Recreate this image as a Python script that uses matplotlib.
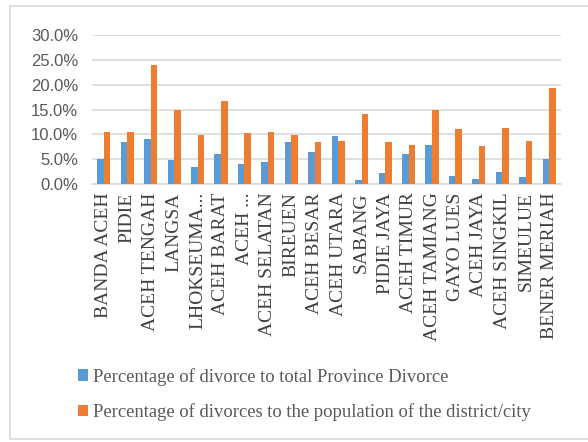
import numpy as np
from matplotlib import pyplot as plt
from matplotlib.patches import Rectangle

districts = ["BANDA ACEH", "PIDIE", "ACEH TENGAH", "LANGSA", "LHOKSEUMA...",
             "ACEH BARAT", "ACEH ...", "ACEH SELATAN", "BIREUEN", "ACEH BESAR",
             "ACEH UTARA", "SABANG", "PIDIE JAYA", "ACEH TIMUR", "ACEH TAMIANG",
             "GAYO LUES", "ACEH JAYA", "ACEH SINGKIL", "SIMEULUE", "BENER MERIAH"]
pct_province = [5.0, 8.4, 9.0, 4.8, 3.5, 6.1, 4.0, 4.5, 8.4, 6.4,
                9.7, 0.9, 2.2, 6.1, 7.9, 1.7, 1.1, 2.5, 1.4, 5.0]
pct_population = [10.4, 10.4, 23.9, 14.9, 9.9, 16.7, 10.2, 10.5, 9.9, 8.4,
                  8.6, 14.0, 8.4, 7.8, 14.9, 11.0, 7.6, 11.3, 8.6, 19.3]
label_province = "Percentage of divorce to total Province Divorce"
label_population = "Percentage of divorces to the population of the district/city"

fig = plt.figure(figsize=(5.88, 4.42), dpi=100)
# outer chart frame
fig.patches.append(Rectangle((10/588, 3/442), 600/588, 433/442, transform=fig.transFigure,
                             fill=False, edgecolor="#D9D9D9", linewidth=1.2))

ax = fig.add_axes([92/588, 1 - 184/442, 469/588, 149/442])
x = np.arange(len(districts))
w = 0.28
ax.bar(x - w/2, pct_province, w, color="#5B9BD5", label=label_province, zorder=3)
ax.bar(x + w/2, pct_population, w, color="#ED7D31", label=label_population, zorder=3)

ax.set_xlim(-0.5, len(districts) - 0.5)
ax.set_ylim(0, 30)
ax.set_yticks(np.arange(0, 31, 5))
ax.set_yticklabels(["%.1f%%" % v for v in np.arange(0, 31, 5)],
                   fontfamily="Liberation Sans", fontsize=12, color="#595959")
ax.set_xticks(x)
ax.set_xticklabels(districts, rotation=90, fontfamily="Liberation Serif",
                   fontsize=14, color="#404040", va="top", ha="center")
ax.tick_params(length=0, pad=6)
ax.tick_params(axis="y", pad=10)
ax.grid(axis="y", color="#D9D9D9", linewidth=1.2, zorder=0)
for s in ["top", "right", "left"]:
    ax.spines[s].set_visible(False)
ax.spines["bottom"].set_color("#D9D9D9")
ax.spines["bottom"].set_linewidth(1.2)

fig.legend(loc="upper left", bbox_to_anchor=(61/588, 1 - 351/442), frameon=False,
           prop={"family": "Liberation Serif", "size": 13.4}, labelcolor="#595959",
           handlelength=0.55, handleheight=0.55, handletextpad=0.25, labelspacing=0.95)

plt.savefig("out.png")
